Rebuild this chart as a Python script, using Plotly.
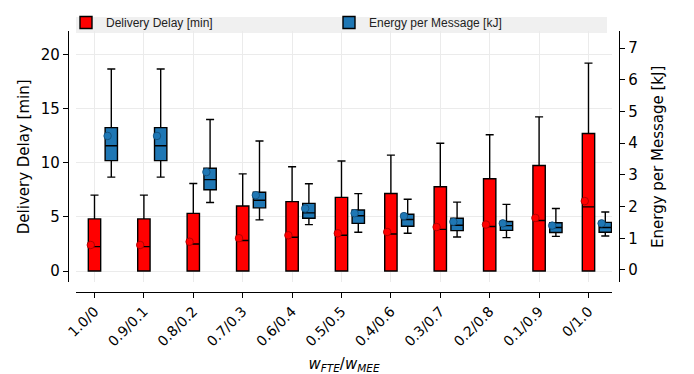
import plotly.graph_objects as go

categories = ["1.0/0", "0.9/0.1", "0.8/0.2", "0.7/0.3", "0.6/0.4", "0.5/0.5",
              "0.4/0.6", "0.3/0.7", "0.2/0.8", "0.1/0.9", "0/1.0"]

# Delivery delay [min]
delay_q1 = [0, 0, 0, 0, 0, 0, 0, 0, 0, 0, 0]
delay_lower = [0, 0, 0, 0, 0, 0, 0, 0, 0, 0, 0]
delay_median = [2.26, 2.26, 2.50, 2.83, 3.13, 3.31, 3.43, 3.85, 4.12, 4.67, 5.93]
delay_q3 = [4.82, 4.82, 5.33, 6.02, 6.42, 6.81, 7.17, 7.80, 8.53, 9.76, 12.71]
delay_upper = [7.02, 7.02, 8.10, 8.98, 9.64, 10.18, 10.72, 11.81, 12.60, 14.25, 19.22]
delay_mean = [2.41, 2.41, 2.71, 3.04, 3.31, 3.49, 3.61, 4.07, 4.30, 4.91, 6.47]

# Energy per message [kJ]
energy_lower = [2.93, 2.93, 2.13, 1.58, 1.43, 1.19, 1.16, 1.04, 1.02, 1.06, 1.07]
energy_q1 = [3.45, 3.45, 2.53, 1.96, 1.63, 1.47, 1.38, 1.24, 1.25, 1.18, 1.19]
energy_median = [3.92, 3.92, 2.85, 2.20, 1.80, 1.71, 1.59, 1.41, 1.40, 1.34, 1.34]
energy_q3 = [4.49, 4.49, 3.21, 2.45, 2.10, 1.89, 1.76, 1.63, 1.53, 1.49, 1.50]
energy_upper = [6.34, 6.34, 4.75, 4.07, 2.72, 2.41, 2.23, 2.14, 2.07, 1.94, 1.83]
energy_mean = [4.23, 4.23, 3.09, 2.36, 1.94, 1.79, 1.70, 1.52, 1.47, 1.40, 1.47]

# The page body has an 8px margin, so the figure is drawn 8px in from the window corner.
PAGE_OFF = 8
W, H = 694 - PAGE_OFF, 374 - PAGE_OFF
pos = list(range(len(categories)))
off_blue = 0.34
mean_shift = -0.075
pos_blue = [p + off_blue for p in pos]

RED = "#ff0000"
BLUE = "#1f77b4"
FONT = "DejaVu Sans"

fig = go.Figure()
fig.add_trace(go.Box(
    x=pos, q1=delay_q1, median=delay_median, q3=delay_q3,
    lowerfence=delay_lower, upperfence=delay_upper,
    width=0.25, whiskerwidth=0.65, fillcolor=RED,
    line=dict(color="black", width=1.4), boxpoints=False,
    name="Delivery Delay [min]", xaxis="x", yaxis="y",
))
fig.add_trace(go.Scatter(
    x=[p + mean_shift for p in pos], y=delay_mean, mode="markers",
    marker=dict(symbol="circle", size=7.5, color=RED, line=dict(color="#a00000", width=0.8)),
    showlegend=False, xaxis="x", yaxis="y", cliponaxis=False,
))
fig.add_trace(go.Box(
    x=pos_blue, q1=energy_q1, median=energy_median, q3=energy_q3,
    lowerfence=energy_lower, upperfence=energy_upper,
    width=0.25, whiskerwidth=0.65, fillcolor=BLUE,
    line=dict(color="black", width=1.4), boxpoints=False,
    name="Energy per Message [kJ]", xaxis="x", yaxis="y2",
))
fig.add_trace(go.Scatter(
    x=[p + mean_shift for p in pos_blue], y=energy_mean, mode="markers",
    marker=dict(symbol="circle", size=7.5, color=BLUE, line=dict(color="#124a73", width=0.8)),
    showlegend=False, xaxis="x", yaxis="y2", cliponaxis=False,
))

px_x = lambda v: (v - PAGE_OFF) / W
px_y = lambda v: 1 - (v - PAGE_OFF) / H

fig.update_layout(
    width=W, height=H, autosize=False,
    margin=dict(l=0, r=0, t=0, b=0, pad=0),
    paper_bgcolor="white", plot_bgcolor="white",
    boxmode="overlay",
    font=dict(family=FONT, size=15, color="black"),
    xaxis=dict(
        domain=[px_x(76), px_x(612)], range=[-0.3745, 10.476],
        anchor="free", position=px_y(289.5), automargin=False,
        tickmode="array", tickvals=pos, ticktext=categories, tickangle=-45,
        ticks="outside", ticklen=5, tickwidth=1.2, tickcolor="black",
        showline=True, linecolor="black", linewidth=1.3,
        showgrid=True, gridcolor="#ebebeb", gridwidth=1, zeroline=False,
        tickfont=dict(family=FONT, size=14),
        title=dict(text="<i>w</i><sub><i>FTE</i></sub>/<i>w</i><sub><i>MEE</i></sub>",
                   font=dict(family=FONT, size=15)),
    ),
    yaxis=dict(
        domain=[px_y(280), px_y(22.7)], range=[-1.04, 22.16],
        anchor="free", position=px_x(68), automargin=False,
        tickmode="array", tickvals=[0, 5, 10, 15, 20],
        ticks="outside", ticklen=5, tickwidth=1.2, tickcolor="black",
        showline=True, linecolor="black", linewidth=1.3,
        showgrid=True, gridcolor="#ebebeb", gridwidth=1, zeroline=False,
        tickfont=dict(family=FONT, size=15),
        title=dict(text="Delivery Delay [min]", font=dict(family=FONT, size=15), standoff=6),
    ),
    yaxis2=dict(
        overlaying="y", side="right", range=[-0.39, 7.53],
        anchor="free", position=px_x(619), automargin=False,
        tickmode="array", tickvals=[0, 1, 2, 3, 4, 5, 6, 7],
        ticks="outside", ticklen=5, tickwidth=1.2, tickcolor="black",
        showline=True, linecolor="black", linewidth=1.3,
        showgrid=False, zeroline=False,
        tickfont=dict(family=FONT, size=15),
        title=dict(text="Energy per Message [kJ]", font=dict(family=FONT, size=15)),
    ),
    legend=dict(
        orientation="h", x=px_x(66), xanchor="left", y=px_y(13.5), yanchor="middle",
        bgcolor="rgba(0,0,0,0)", entrywidth=218, entrywidthmode="pixels",
        font=dict(family="Liberation Sans", size=12, color="#222222"),
    ),
    shapes=[dict(type="rect", xref="paper", yref="paper",
                 x0=px_x(76), x1=px_x(607), y0=px_y(24.4), y1=1,
                 fillcolor="#f0f0f0", line=dict(width=0), layer="below")],
)

fig.write_html("out.html")
